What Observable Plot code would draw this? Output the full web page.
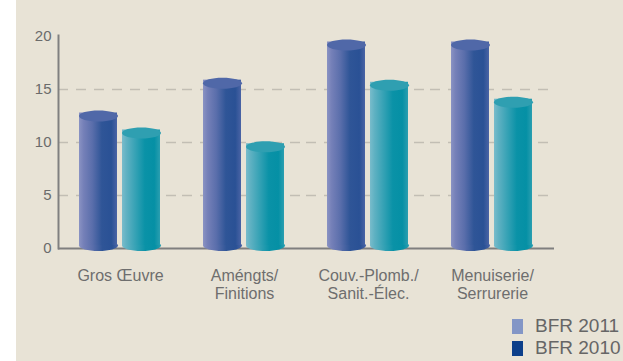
<!DOCTYPE html>
<html><head><meta charset="utf-8">
<script src="https://cdn.jsdelivr.net/npm/d3@7"></script>
<script src="https://cdn.jsdelivr.net/npm/@observablehq/plot@0.6"></script>
<style>
html,body{margin:0;padding:0;background:#fff;}
#wrap{position:relative;margin-left:16px;width:607px;height:361px;background:#e8e3d6;overflow:hidden;font-family:"Liberation Sans",Arial,sans-serif;}
#chart svg{display:block;}
#legend{position:absolute;left:496px;top:315px;}
.row{display:flex;align-items:center;height:22px;font-size:19px;color:#666;}
.sw{width:11px;height:15px;margin-right:12px;}
</style></head><body>
<div id="wrap"><div id="chart"></div><div id="legend"></div></div>
<script>
const categories = ["Gros Œuvre", "Améngts/\nFinitions", "Couv.-Plomb./\nSanit.-Élec.", "Menuiserie/\nSerrurerie"];
const series = ["BFR 2011", "BFR 2010"];
const bfr2011 = [12.5, 15.6, 19.2, 19.2];
const bfr2010 = [10.9, 9.6, 15.4, 13.8];
const yTicks = [0, 5, 10, 15, 20];
const gridValues = [5, 10, 15];
const legendColors = ["#8396c6", "#0c3f8a"];

const rows2011 = categories.map((c, i) => ({cat: c, series: series[0], value: bfr2011[i]}));
const rows2010 = categories.map((c, i) => ({cat: c, series: series[1], value: bfr2010[i]}));

const ellipse = {draw(ctx) {
  const rx = 19.5, ry = 5.5, k = 0.5523;
  ctx.moveTo(rx, 0);
  ctx.bezierCurveTo(rx, ry * k, rx * k, ry, 0, ry);
  ctx.bezierCurveTo(-rx * k, ry, -rx, ry * k, -rx, 0);
  ctx.bezierCurveTo(-rx, -ry * k, -rx * k, -ry, 0, -ry);
  ctx.bezierCurveTo(rx * k, -ry, rx, -ry * k, rx, 0);
  ctx.closePath();
}};

function cylinder(rows, grad, topColor) {
  return [
    Plot.dot(rows, {fx: "cat", x: "series", y: () => 0, dy: -3, symbol: ellipse, fill: grad}),
    Plot.barY(rows, {fx: "cat", x: "series", y1: () => 0, y2: "value", dy: -3, fill: grad}),
    Plot.dot(rows, {fx: "cat", x: "series", y: "value", symbol: ellipse, fill: topColor})
  ];
}

const svg = Plot.plot({
  width: 607, height: 310,
  marginLeft: 42, marginRight: 69, marginTop: 36, marginBottom: 62,
  style: {background: "transparent", fontFamily: "'Liberation Sans', Arial, sans-serif", color: "#6b6b6b"},
  fx: {domain: categories, paddingInner: 0, paddingOuter: 0, label: null},
  x: {domain: series, paddingInner: 0.1136, paddingOuter: 0.466, axis: null},
  y: {domain: [0, 20]},
  marks: [
    Plot.ruleY(gridValues, {stroke: "#c2beb4", strokeWidth: 1.5, strokeDasharray: "10,8"}),
    Plot.ruleY([0], {stroke: "#7f7f7f", strokeWidth: 2}),
    Plot.frame({anchor: "left", facetAnchor: "left", stroke: "#808080", strokeWidth: 2, insetTop: -1}),
    Plot.axisY({ticks: yTicks, tickSize: 0, tickPadding: 7, fontSize: 15, label: null, fill: "#6b6b6b"}),
    Plot.axisFx({anchor: "bottom", tickSize: 0, tickPadding: 20, fontSize: 16, lineHeight: 1.12, label: null, fill: "#6e6e6e"}),
    ...cylinder(rows2011, "url(#gBlue)", "#5068a8"),
    ...cylinder(rows2010, "url(#gTeal)", "#2f9fb1")
  ]
});

const defs = d3.select(svg).insert("defs", ":first-child");
function grad(id, stops) {
  const g = defs.append("linearGradient").attr("id", id).attr("x1", 0).attr("x2", 1).attr("y1", 0).attr("y2", 0);
  stops.forEach(([o, c]) => g.append("stop").attr("offset", o).attr("stop-color", c));
}
grad("gBlue", [[0, "#8a93c3"], [0.12, "#7580b8"], [0.35, "#5a6eab"], [0.6, "#2f5597"], [0.85, "#2a5195"], [1, "#4a64a5"]]);
grad("gTeal", [[0, "#79bccb"], [0.12, "#5fb1c2"], [0.35, "#36a2b5"], [0.6, "#0a92a7"], [0.85, "#0590a5"], [1, "#2a9eb0"]]);

document.getElementById("chart").appendChild(svg);

const legend = d3.select("#legend");
series.forEach((s, i) => {
  const r = legend.append("div").attr("class", "row");
  r.append("div").attr("class", "sw").style("background", legendColors[i]);
  r.append("span").text(s);
});
</script>
</body></html>
